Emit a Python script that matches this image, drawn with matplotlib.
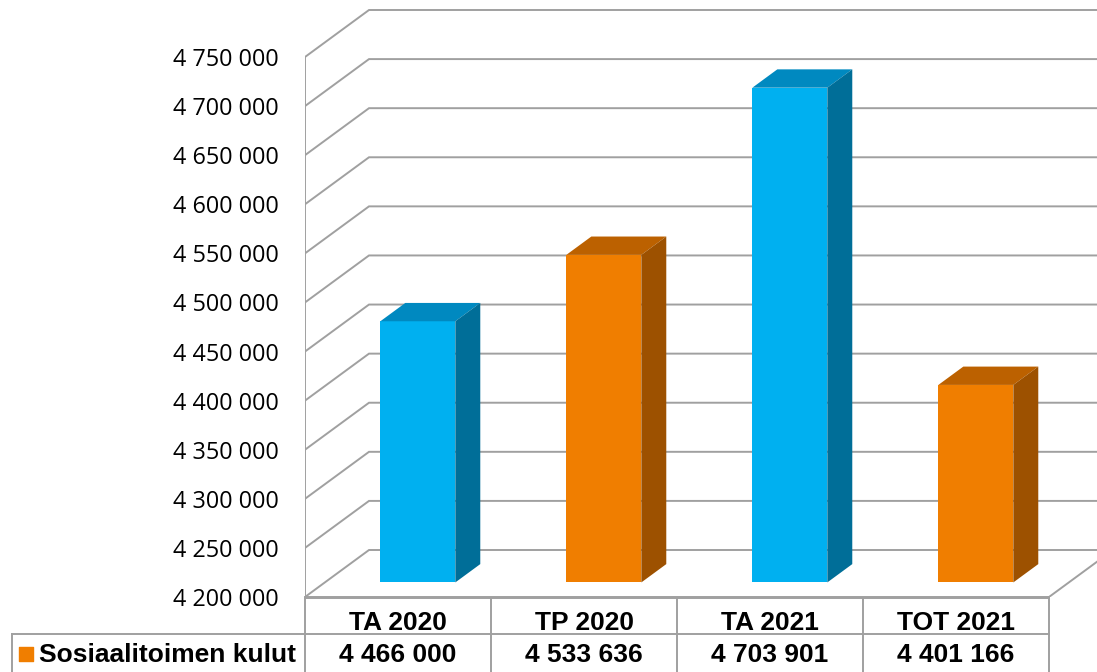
import matplotlib
matplotlib.use("Agg")
import matplotlib.pyplot as plt
from matplotlib.patches import Polygon
from matplotlib.ticker import FuncFormatter

# data
categories = ["TA 2020", "TP 2020", "TA 2021", "TOT 2021"]
values = [4466000, 4533636, 4703901, 4401166]
series_name = "Sosiaalitoimen kulut"
value_labels = ["4 466 000", "4 533 636", "4 703 901", "4 401 166"]
y_min, y_max, y_step = 4200000, 4750000, 50000

# colours per bar: front, top, side
cyan = ("#00B0F0", "#0089C0", "#006E98")
orange = ("#F07E00", "#BC6100", "#9D5100")
bar_colors = [cyan, orange, cyan, orange]
grid_col = "#A0A0A0"

# layout in pixels
W, H = 1097, 672
left_px, floor_px, table_h = 305, 597, 75
cat_px = 186.0
tick_px = 540.0 / 11
depth_x_px, depth_y_px = 64.0, 47.0

fig = plt.figure(figsize=(W / 100, H / 100), dpi=100)
ax = fig.add_axes([left_px / W, table_h / H, (W - left_px) / W, floor_px / H])
px_val = y_step / tick_px
ax.set_xlim(0, (W - left_px) / cat_px)
ax.set_ylim(y_min, y_min + floor_px * px_val)
DX = depth_x_px / cat_px
DY = depth_y_px * px_val
n = len(categories)

for s in ax.spines.values():
    s.set_visible(False)
ax.set_xticks([])
ticks = list(range(y_min, y_max + 1, y_step))
ax.set_yticks(ticks)
ax.yaxis.set_major_formatter(FuncFormatter(lambda v, p: f"{v:,.0f}".replace(",", " ")))
ax.tick_params(axis="y", length=0, pad=19, labelsize=16.8)
for lab in ax.get_yticklabels():
    lab.set_fontfamily("Open Sans")

# walls: gridlines on left wall + back wall
for t in ticks:
    ax.plot([0, DX, n + DX + 1], [t, t + DY, t + DY], color=grid_col, lw=1.4, zorder=1,
            solid_joinstyle="miter")
ax.plot([0, 0], [y_min, y_max], color=grid_col, lw=1.4, zorder=1)
# floor front and right edges
ax.plot([0, n], [y_min, y_min], color=grid_col, lw=1.4, zorder=1, clip_on=False)
ax.plot([n, n + DX], [y_min, y_min + DY], color=grid_col, lw=1.4, zorder=1)

# 3d bars
bw = 0.403
d0, d1 = 0.31, 0.70
for i, (v, (cf, ct, cs)) in enumerate(zip(values, bar_colors)):
    x0 = i + 0.5 - bw / 2 + d0 * DX
    x1 = x0 + bw
    yb = y_min + d0 * DY
    yt = v + d0 * DY
    ddx = (d1 - d0) * DX
    ddy = (d1 - d0) * DY
    ax.add_patch(Polygon([(x0, yb), (x1, yb), (x1, yt), (x0, yt)], closed=True,
                         facecolor=cf, edgecolor="none", zorder=3))
    ax.add_patch(Polygon([(x0, yt), (x1, yt), (x1 + ddx, yt + ddy), (x0 + ddx, yt + ddy)],
                         closed=True, facecolor=ct, edgecolor="none", zorder=3))
    ax.add_patch(Polygon([(x1, yb), (x1 + ddx, yb + ddy), (x1 + ddx, yt + ddy), (x1, yt)],
                         closed=True, facecolor=cs, edgecolor="none", zorder=3))

# data table
tax = fig.add_axes([0, 0, 1, table_h / H])
tax.set_xlim(-left_px / cat_px, (W - left_px) / cat_px)
tax.set_ylim(table_h, 0)
tax.axis("off")
row_y = 37
box_left = (12 - left_px) / cat_px
tax.plot([0, n], [0.5, 0.5], color=grid_col, lw=1.4)
tax.plot([box_left, n], [row_y, row_y], color=grid_col, lw=1.4)
for i in range(n + 1):
    tax.plot([i, i], [0, table_h], color=grid_col, lw=1.4)
tax.plot([box_left, box_left], [row_y, table_h], color=grid_col, lw=1.4)
tfont = dict(family="Liberation Sans", weight="bold", size=19)
for i, (c, lab) in enumerate(zip(categories, value_labels)):
    tax.text(i + 0.5, 25.5, c, ha="center", va="center", **tfont)
    tax.text(i + 0.5, 58.5, lab, ha="center", va="center", **tfont)
tax.scatter([(26 - left_px) / cat_px], [57], marker="s", s=110, color=orange[0])
tax.text((39 - left_px) / cat_px, 58.5, series_name, ha="left", va="center", **tfont)

fig.savefig("out.png", dpi=100)
